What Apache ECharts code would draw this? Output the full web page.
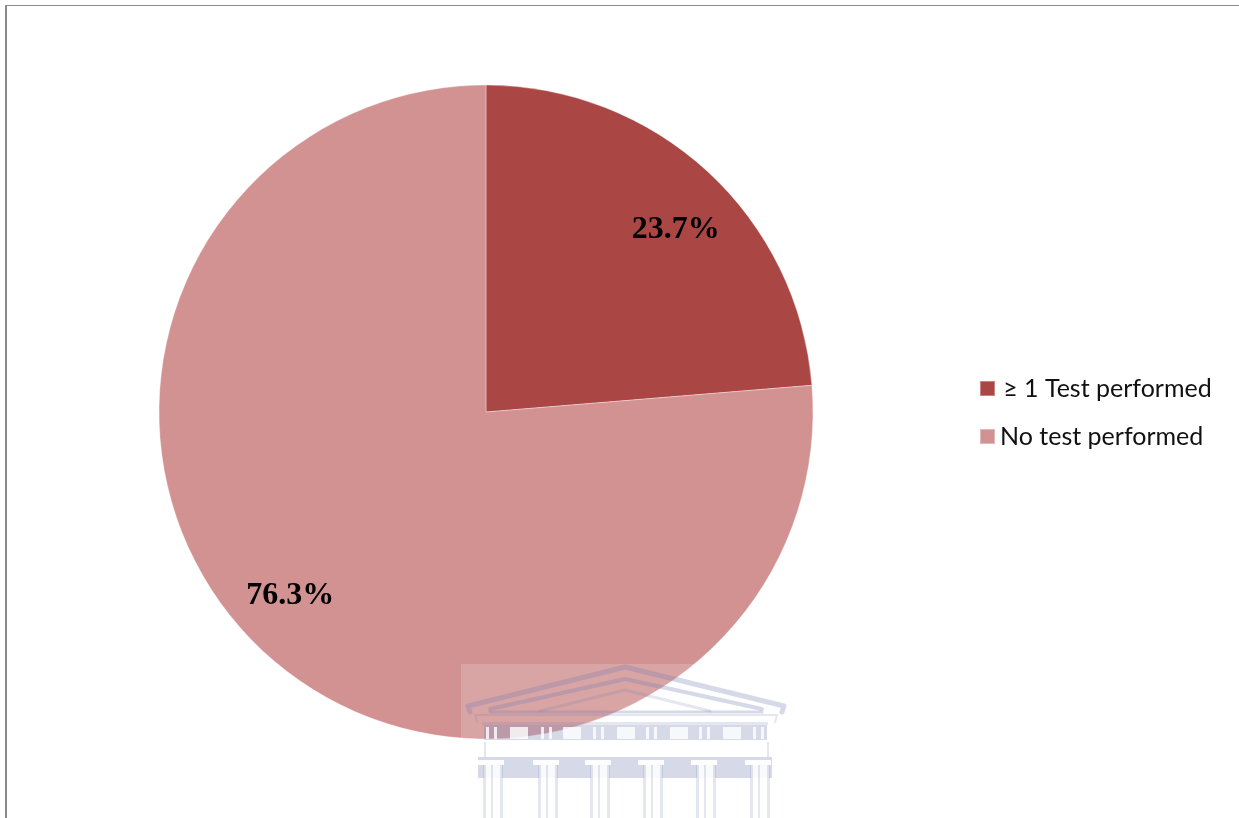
<!DOCTYPE html>
<html><head><meta charset="utf-8">
<style>html,body{margin:0;padding:0;background:#fff}#c{width:1239px;height:818px}</style>
<script src="https://cdn.jsdelivr.net/npm/echarts@6/dist/echarts.min.js"></script>
</head><body><div id="c"></div>
<script>
const categories = ['\u2265 1 Test performed', 'No test performed'];
const values = [23.7, 76.3];
const colors = ['#AA4644', '#D29292'];
const labelOffsets = [[77, -60], [-83, 61]];

const wm = 'rgba(118,130,178,0.30)';
const wmSoft = 'rgba(118,130,178,0.20)';
const columnX = [485, 540, 592, 645, 698, 752];
const graphic = [];
const rect = (x, y, w, h, fill) => graphic.push({type:'rect', silent:true, z:20, shape:{x,y,width:w,height:h}, style:{fill}});
const line = (pts, w, c) => graphic.push({type:'polyline', silent:true, z:21, shape:{points:pts}, style:{stroke:c||wm, lineWidth:w, lineJoin:'round', lineCap:'round', fill:'none'}});

// frame
rect(5, 5, 1234, 1, '#8a8a8a');
rect(5, 5, 2, 813, '#8a8a8a');
// watermark panel
rect(461, 664, 329, 154, 'rgba(255,255,255,0.17)');
// pediment
line([[470,712],[468,706],[625,667],[784,706],[782,712]], 5);
line([[490,709],[625,679],[762,709]], 4);
line([[540,711],[625,690],[710,711]], 3, wmSoft);
line([[490,712],[762,712]], 3, wm);
line([[477,722],[475,715],[777,715],[775,722]], 2, wmSoft);
rect(482, 722, 286, 3, wmSoft);
// frieze
rect(484, 725, 283, 15, wm);
[510, 563, 617, 670, 723].forEach(x => rect(x, 727, 18, 12, 'rgba(255,255,255,0.8)'));
columnX.forEach(x => { [x + 1, x + 9].forEach(b => rect(b, 727, 3, 12, 'rgba(255,255,255,0.8)')); });
// beam and capitals
rect(484, 742, 2, 15, wmSoft);
rect(767, 742, 2, 15, wmSoft);
rect(478, 757, 294, 21, wm);
columnX.forEach(x => {
  rect(x - 7, 760, 26, 5, 'rgba(255,255,255,0.95)');
  rect(x - 1, 765, 18, 53, 'rgba(255,255,255,0.85)');
  rect(x - 2, 765, 3, 53, wmSoft);
  rect(x + 15, 765, 3, 53, wmSoft);
  rect(x + 6, 765, 2, 53, wmSoft);
});

const chart = echarts.init(document.getElementById('c'), null, {renderer:'canvas'});
chart.setOption({
  animation:false,
  backgroundColor:'#fff',
  legend:{
    orient:'vertical', left:979, top:376, padding:0, itemWidth:15, itemHeight:15, itemGap:23,
    icon:'rect', selectedMode:false, data:categories,
    textStyle:{fontFamily:'Lato, "Open Sans", sans-serif', fontSize:25, color:'#111', padding:0},
    formatter:n => n === categories[0] ? '\u2009' + n : n
  },
  series:[{
    type:'pie', center:[486,412], radius:[0,327], startAngle:90, clockwise:true,
    avoidLabelOverlap:false, silent:true,
    itemStyle:{borderColor:'rgba(255,255,255,0.35)', borderWidth:1},
    label:{show:true, position:'inside', fontFamily:'"Liberation Serif", serif', fontWeight:'bold', fontSize:32, color:'#000',
      formatter:p => p.value.toFixed(1) + '%'},
    labelLine:{show:false},
    data:categories.map((name,i)=>({name, value:values[i], itemStyle:{color:colors[i]}, label:{offset:labelOffsets[i]}}))
  }],
  graphic:{elements:graphic}
});
</script></body></html>
